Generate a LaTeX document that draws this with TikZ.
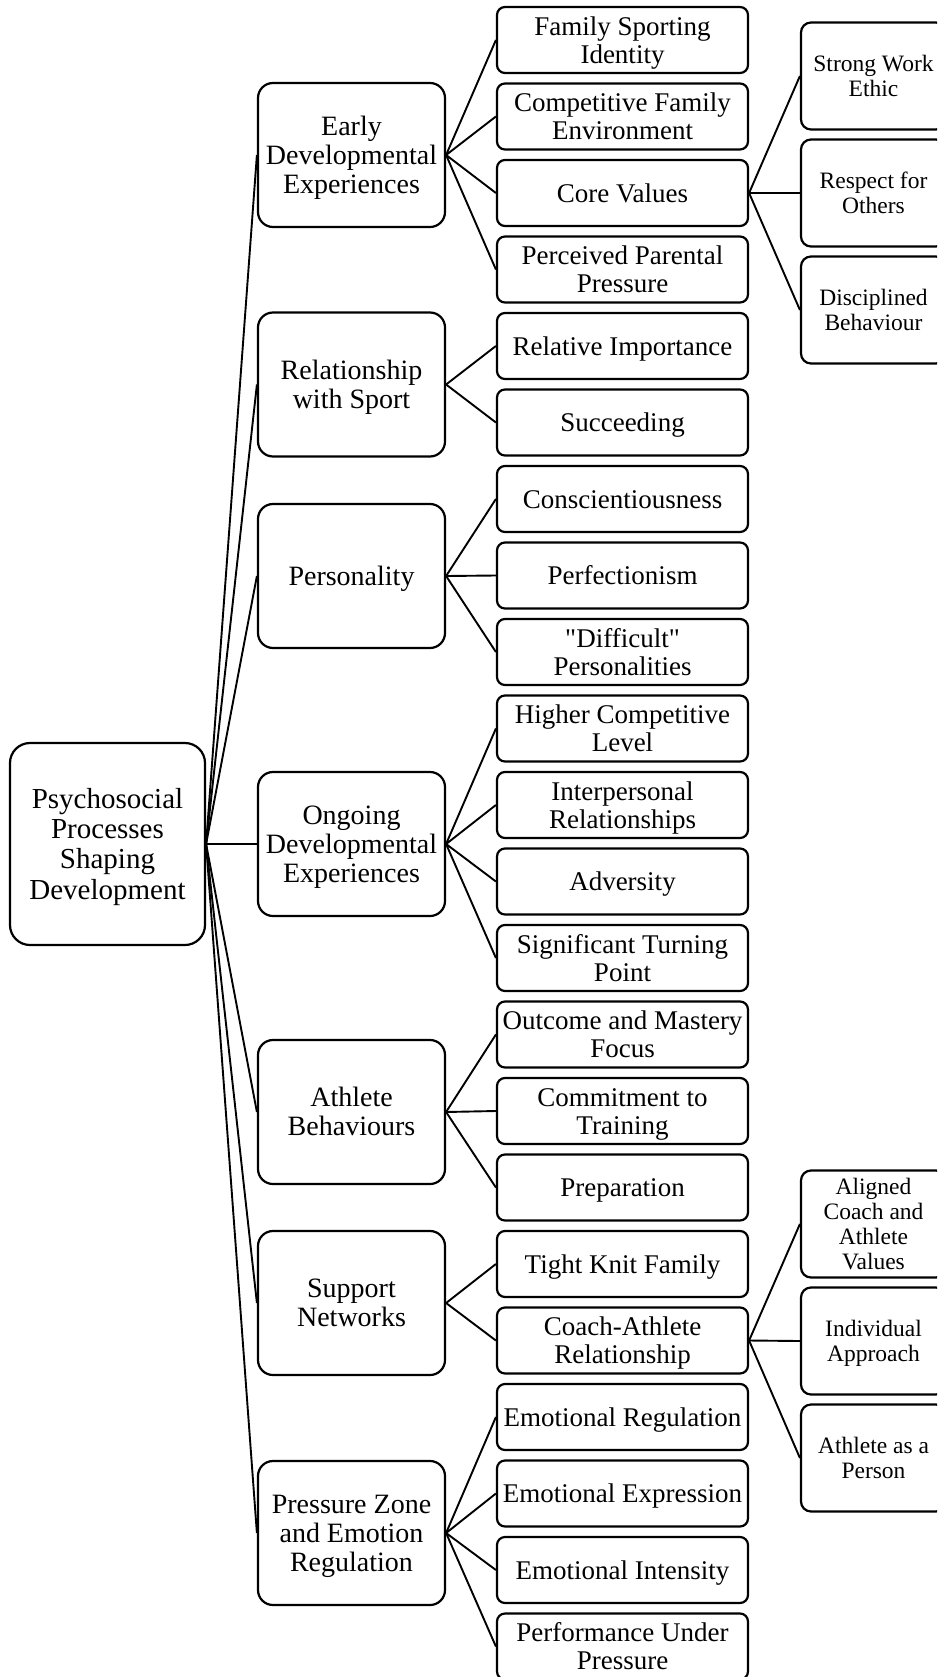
\documentclass[tikz,border=0pt]{standalone}
\usepackage{fontspec}
\setmainfont{Liberation Serif}
\newfontfamily\plainquote{Liberation Serif}[Ligatures=TeXOff]
% line strut with the ascent and descent of the font
\newcommand\Ls{\rule[-0.216em]{0pt}{1.107em}}
\newcommand\sq{{\plainquote\symbol{34}}}
\begin{document}
\begin{tikzpicture}[x=1pt,y=-1pt,
  box/.style={draw=black, line width=2.2pt, fill=white, align=center, inner sep=0pt, rectangle,
    execute at begin node=\Ls},
  rootbox/.style={box, rounded corners=20pt, minimum width=195pt, minimum height=202pt,
    font=\fontsize{29}{30.3}\selectfont},
  mainbox/.style={box, rounded corners=15pt, minimum width=187pt, minimum height=144pt,
    font=\fontsize{28}{29}\selectfont},
  subbox/.style={box, rounded corners=8pt, minimum width=251pt, minimum height=66pt,
    font=\fontsize{27}{27.8}\selectfont},
  leafbox/.style={box, rounded corners=10pt, minimum width=145pt, minimum height=107pt,
    font=\fontsize{23.5}{25}\selectfont},
  link/.style={draw=black, line width=1.9pt}
]
\useasboundingbox (0,0) rectangle (937,1677);
\clip (0,0) rectangle (937,1677);

% root
\node[rootbox] (root) at (107.5,844) {\Ls Psychosocial\\Processes\\Shaping\\Development};

% main themes
\node[mainbox] (early) at (351.5,155) {\Ls Early\\Developmental\\Experiences};
\node[mainbox] (rel)   at (351.5,384.5) {\Ls Relationship\\with Sport};
\node[mainbox] (pers)  at (351.5,576) {Personality};
\node[mainbox] (ongo)  at (351.5,844) {\Ls Ongoing\\Developmental\\Experiences};
\node[mainbox] (beh)   at (351.5,1112) {\Ls Athlete\\Behaviours};
\node[mainbox] (supp)  at (351.5,1303) {\Ls Support\\Networks};
\node[mainbox] (press) at (351.5,1533) {\Ls Pressure Zone\\and Emotion\\Regulation};

% sub-themes (centres 40 + 76.5 i)
\node[subbox] (s0)  at (622.5,40)     {\Ls Family Sporting\\Identity};
\node[subbox] (s1)  at (622.5,116.5)  {\Ls Competitive Family\\Environment};
\node[subbox] (s2)  at (622.5,193)    {Core Values};
\node[subbox] (s3)  at (622.5,269.5)  {\Ls Perceived Parental\\Pressure};
\node[subbox] (s4)  at (622.5,346)    {Relative Importance};
\node[subbox] (s5)  at (622.5,422.5)  {Succeeding};
\node[subbox] (s6)  at (622.5,499)    {Conscientiousness};
\node[subbox] (s7)  at (622.5,575.5)  {Perfectionism};
\node[subbox] (s8)  at (622.5,652)    {\Ls\sq Difficult\sq\\Personalities};
\node[subbox] (s9)  at (622.5,728.5)  {\Ls Higher Competitive\\Level};
\node[subbox] (s10) at (622.5,805)    {\Ls Interpersonal\\Relationships};
\node[subbox] (s11) at (622.5,881.5)  {Adversity};
\node[subbox] (s12) at (622.5,958)    {\Ls Significant Turning\\Point};
\node[subbox] (s13) at (622.5,1034.5) {\Ls Outcome and Mastery\\Focus};
\node[subbox] (s14) at (622.5,1111)   {\Ls Commitment to\\Training};
\node[subbox] (s15) at (622.5,1187.5) {Preparation};
\node[subbox] (s16) at (622.5,1264)   {Tight Knit Family};
\node[subbox] (s17) at (622.5,1340.5) {\Ls Coach-Athlete\\Relationship};
\node[subbox] (s18) at (622.5,1417)   {Emotional Regulation};
\node[subbox] (s19) at (622.5,1493.5) {Emotional Expression};
\node[subbox] (s20) at (622.5,1570)   {Emotional Intensity};
\node[subbox] (s21) at (622.5,1646.5) {\Ls Performance Under\\Pressure};

% third-level themes
\node[leafbox] (c1) at (873.5,76)     {\Ls Strong Work\\Ethic};
\node[leafbox] (c2) at (873.5,193)    {\Ls Respect for\\Others};
\node[leafbox] (c3) at (873.5,310)    {\Ls Disciplined\\Behaviour};
\node[leafbox] (d1) at (873.5,1224)   {\Ls Aligned\\Coach and\\Athlete\\Values};
\node[leafbox] (d2) at (873.5,1341)   {\Ls Individual\\Approach};
\node[leafbox] (d3) at (873.5,1458)   {\Ls Athlete as a\\Person};

% connectors
\foreach \m in {early,rel,pers,ongo,beh,supp,press}
  \draw[link] (root.east) -- (\m.west);
\foreach \s in {s0,s1,s2,s3} \draw[link] (early.east) -- (\s.west);
\foreach \s in {s4,s5} \draw[link] (rel.east) -- (\s.west);
\foreach \s in {s6,s7,s8} \draw[link] (pers.east) -- (\s.west);
\foreach \s in {s9,s10,s11,s12} \draw[link] (ongo.east) -- (\s.west);
\foreach \s in {s13,s14,s15} \draw[link] (beh.east) -- (\s.west);
\foreach \s in {s16,s17} \draw[link] (supp.east) -- (\s.west);
\foreach \s in {s18,s19,s20,s21} \draw[link] (press.east) -- (\s.west);
\foreach \c in {c1,c2,c3} \draw[link] (s2.east) -- (\c.west);
\foreach \d in {d1,d2,d3} \draw[link] (s17.east) -- (\d.west);
\end{tikzpicture}
\end{document}
